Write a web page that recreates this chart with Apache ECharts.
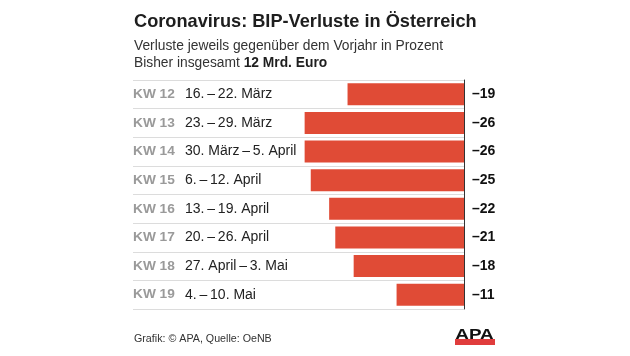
<!DOCTYPE html>
<html>
<head>
<meta charset="utf-8">
<script src="https://cdn.jsdelivr.net/npm/echarts@6/dist/echarts.min.js"></script>
<style>html,body{margin:0;padding:0;background:#fff}#c{width:630px;height:356px}</style>
</head>
<body>
<div id="c"></div>
<script>
const weeks = ['KW 12','KW 13','KW 14','KW 15','KW 16','KW 17','KW 18','KW 19'];
const periods = ['16.\u2009–\u200922. März','23.\u2009–\u200929. März','30. März\u2009–\u20095. April','6.\u2009–\u200912. April','13.\u2009–\u200919. April','20.\u2009–\u200926. April','27. April\u2009–\u20093. Mai','4.\u2009–\u200910. Mai'];
const values = [-19, -26, -26, -25, -22, -21, -18, -11];
const titleText = 'Coronavirus: BIP-Verluste in Österreich';
const subLine1 = 'Verluste jeweils gegenüber dem Vorjahr in Prozent';
const subLine2a = 'Bisher insgesamt ';
const subLine2b = '12 Mrd. Euro';
const sourceText = 'Grafik: © APA, Quelle: OeNB';

const FONT = "'Liberation Sans', Arial, Helvetica, sans-serif";
const chart = echarts.init(document.getElementById('c'), null, {renderer:'canvas'});
const catLabels = weeks.map((w,i)=> '{kw|' + w + '}{d|' + periods[i] + '}');
const valLabels = values.map(v => (v < 0 ? '–' : '') + Math.abs(v));

chart.setOption({
  backgroundColor: '#fff',
  animation: false,
  title: [
    {text: titleText, left: 134, top: 13, padding: 0,
     textStyle: {fontFamily: FONT, fontSize: 18.2, fontWeight: 'bold', color: '#1e1e1e'}},
    {text: subLine1 + '\n{n|' + subLine2a + '}{b|' + subLine2b + '}', left: 134, top: 38, padding: 0,
     textStyle: {fontFamily: FONT, fontSize: 13.8, fontWeight: 'normal', color: '#333', lineHeight: 16.6,
       rich: {n: {fontFamily: FONT, fontSize: 13.8, color: '#333', lineHeight: 16.6},
              b: {fontFamily: FONT, fontSize: 13.8, fontWeight: 'bold', color: '#1e1e1e', lineHeight: 16.6}}}}
  ],
  grid: {left: 133, right: 166, top: 80, height: 229, containLabel: false},
  xAxis: {type: 'value', min: -54, max: 0, show: false},
  yAxis: [
    {type: 'category', data: catLabels, inverse: true, position: 'left',
     axisLine: {show: false}, axisTick: {show: false},
     splitLine: {show: true, interval: 0, lineStyle: {color: '#dcdcdc', width: 1}},
     axisLabel: {inside: true, align: 'left', margin: 0, interval: 0,
       rich: {kw: {fontFamily: FONT, fontSize: 13.7, fontWeight: 'bold', color: '#9a9a9a', width: 52},
              d: {fontFamily: FONT, fontSize: 14, color: '#222'}}}},
    {type: 'category', data: valLabels, inverse: true, position: 'right',
     axisLine: {show: true, lineStyle: {color: '#333', width: 1}}, axisTick: {show: false},
     splitLine: {show: false},
     axisLabel: {margin: 8, align: 'left', interval: 0,
       fontFamily: FONT, fontSize: 14, fontWeight: 'bold', color: '#111'}}
  ],
  series: [{
    type: 'bar', data: values, yAxisIndex: 0, barWidth: 22,
    itemStyle: {color: '#e04b36'}, silent: true
  }],
  graphic: [
    {type: 'text', left: 134, top: 334, style: {text: sourceText, font: '10.7px ' + FONT, fill: '#333'}},
    {type: 'rect', shape: {x: 455, y: 339, width: 40, height: 6}, style: {fill: '#e03c3c'}},
    {type: 'text', x: 474.5, y: 342, scaleX: 1.3, style: {text: 'APA', font: 'bold 14.5px ' + FONT, fill: '#111', align: 'center', verticalAlign: 'bottom'}}
  ]
});
</script>
</body>
</html>
